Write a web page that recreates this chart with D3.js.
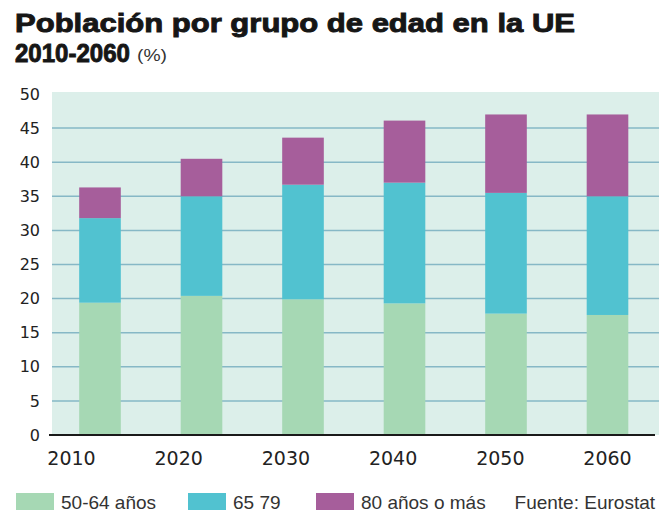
<!DOCTYPE html>
<html>
<head>
<meta charset="utf-8">
<script src="https://cdn.jsdelivr.net/npm/d3@7"></script>
<style>
  html, body { margin: 0; padding: 0; background: #ffffff; }
  svg { display: block; }
</style>
</head>
<body>
<svg id="chart" width="659" height="516"></svg>
<script>
// ---- data ----
const years = ["2010", "2020", "2030", "2040", "2050", "2060"];
const seriesNames = ["50-64 años", "65 79", "80 años o más"];
const age50to64 = [19.4, 20.4, 19.9, 19.3, 17.8, 17.6];
const age65to79 = [12.4, 14.6, 16.8, 17.7, 17.7, 17.4];
const age80plus = [4.5, 5.5, 6.9, 9.1, 11.5, 12.0];
const yTicks = [0, 5, 10, 15, 20, 25, 30, 35, 40, 45, 50];
const titleLine1 = "Población por grupo de edad en la UE";
const titleLine2 = "2010-2060";
const titleUnit = "(%)";
const sourceText = "Fuente: Eurostat";

const colors = ["#a6d8b4", "#51c2d0", "#a65e9b"];

const rows = years.map((y, i) => ({
  year: y,
  [seriesNames[0]]: age50to64[i],
  [seriesNames[1]]: age65to79[i],
  [seriesNames[2]]: age80plus[i]
}));

const svg = d3.select("#chart");

// plot geometry
const plotLeft = 52, plotRight = 659, plotTop = 92, plotBottom = 435;

const y = d3.scaleLinear().domain([0, 50]).range([plotBottom, 94]);
const x = d3.scaleBand().domain(years).range([49.25, 658.25])
  .paddingInner(0.59).paddingOuter(0.295);
const xLabel = d3.scalePoint().domain(years).range([71, 607]);

// title
svg.append("text")
  .attr("x", 15).attr("y", 32)
  .attr("font-family", "Liberation Sans, Arial, sans-serif")
  .attr("font-weight", "bold").attr("font-size", 25)
  .attr("fill", "#161616").attr("stroke", "#161616").attr("stroke-width", 0.9)
  .attr("textLength", 560).attr("lengthAdjust", "spacingAndGlyphs")
  .text(titleLine1);
svg.append("text")
  .attr("x", 15).attr("y", 62)
  .attr("font-family", "Liberation Sans, Arial, sans-serif")
  .attr("font-weight", "bold").attr("font-size", 25)
  .attr("fill", "#161616").attr("stroke", "#161616").attr("stroke-width", 0.9)
  .attr("textLength", 115).attr("lengthAdjust", "spacingAndGlyphs")
  .text(titleLine2);
svg.append("text")
  .attr("x", 137).attr("y", 61)
  .attr("font-family", "Liberation Sans, Arial, sans-serif")
  .attr("font-size", 16)
  .attr("fill", "#333")
  .attr("textLength", 30).attr("lengthAdjust", "spacingAndGlyphs")
  .text(titleUnit);

// background
svg.append("rect")
  .attr("x", plotLeft).attr("y", plotTop)
  .attr("width", plotRight - plotLeft).attr("height", plotBottom - plotTop)
  .attr("fill", "#dcefea");

// gridlines
svg.append("g")
  .selectAll("line")
  .data(yTicks.filter(t => t > 0 && t < 50))
  .join("line")
  .attr("x1", plotLeft).attr("x2", plotRight)
  .attr("y1", d => y(d)).attr("y2", d => y(d))
  .attr("stroke", "#86b8c6").attr("stroke-width", 1.5);

// stacked bars
const stack = d3.stack().keys(seriesNames);
const stacked = stack(rows);

svg.append("g")
  .selectAll("g")
  .data(stacked)
  .join("g")
  .attr("fill", (d, i) => colors[i])
  .selectAll("rect")
  .data(d => d)
  .join("rect")
  .attr("x", d => x(d.data.year))
  .attr("width", x.bandwidth())
  .attr("y", d => y(d[1]))
  .attr("height", d => y(d[0]) - y(d[1]));

// y axis labels
const yAxis = d3.axisLeft(y).tickValues(yTicks).tickSize(0).tickPadding(0);
const yg = svg.append("g").attr("transform", "translate(40,0)").call(yAxis);
yg.select(".domain").remove();
yg.selectAll("text")
  .attr("font-family", "DejaVu Sans, sans-serif")
  .attr("font-size", 16)
  .attr("fill", "#222")
  .attr("dy", "0.32em");

// x axis baseline
svg.append("line")
  .attr("x1", 49).attr("x2", 655)
  .attr("y1", plotBottom).attr("y2", plotBottom)
  .attr("stroke", "#1a1a1a").attr("stroke-width", 2);

// x axis labels
const xAxis = d3.axisBottom(xLabel).tickSize(0).tickPadding(0);
const xg = svg.append("g").attr("transform", "translate(0,451)").call(xAxis);
xg.select(".domain").remove();
xg.selectAll("text")
  .attr("font-family", "DejaVu Sans, sans-serif")
  .attr("font-size", 19)
  .attr("fill", "#222")
  .attr("dy", "0.71em");

// legend
const legendX = [16, 188, 316];
const legend = svg.append("g");
seriesNames.forEach((name, i) => {
  legend.append("rect")
    .attr("x", legendX[i]).attr("y", 493)
    .attr("width", 38).attr("height", 17)
    .attr("fill", colors[i]);
  legend.append("text")
    .attr("x", legendX[i] + 45).attr("y", 509)
    .attr("font-family", "Liberation Sans, Arial, sans-serif")
    .attr("font-size", 19)
    .attr("fill", "#333")
    .text(name);
});
svg.append("text")
  .attr("x", 655).attr("y", 509)
  .attr("text-anchor", "end")
  .attr("font-family", "Liberation Sans, Arial, sans-serif")
  .attr("font-size", 19)
  .attr("fill", "#333")
  .text(sourceText);
</script>
</body>
</html>
